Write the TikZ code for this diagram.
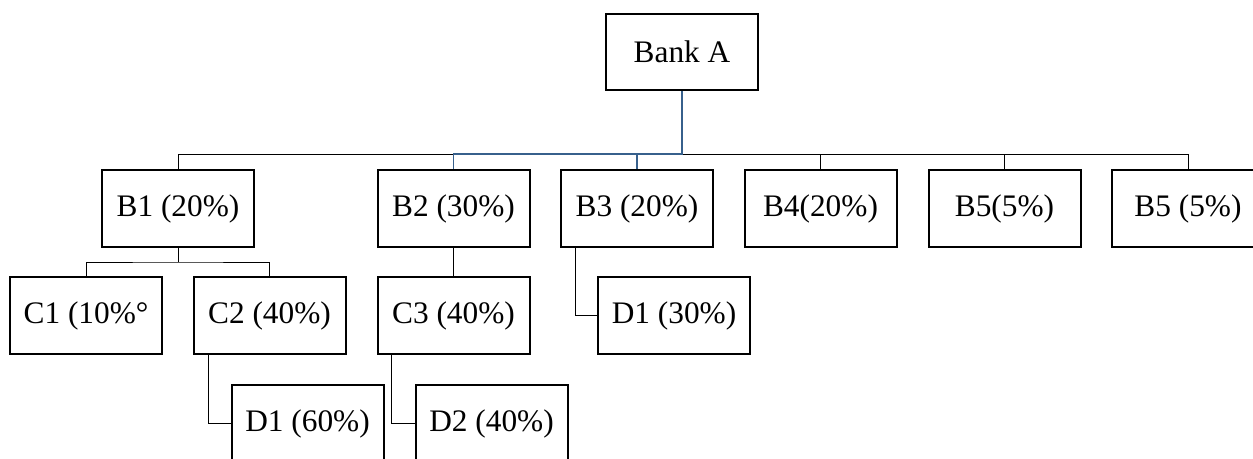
\documentclass[tikz,border=0pt]{standalone}
\usepackage{fontspec}
\setmainfont{Liberation Serif}
\usetikzlibrary{calc}
\definecolor{linkblue}{RGB}{55,96,140}
\begin{document}
\begin{tikzpicture}[x=0.75pt,y=-0.75pt,
    box/.style={draw,rectangle,line width=1.5pt,minimum width=114pt,minimum height=57.5pt,inner sep=0pt,font=\fontsize{23.5}{28}\selectfont},
    link/.style={line width=0.6pt}]
      \useasboundingbox(0,0)rectangle(1253,458);
      \foreach \n/\x/\y/\t in{bank/682/52/Bank A,b1/178/208.5/B1 (20\%),b2/453.5/208.5/B2 (30\%),b3/637/208.5/B3 (20\%),
        b4/820.5/208.5/B4(20\%),b5/1004.5/208.5/B5(5\%),b6/1188/208.5/B5 (5\%),
        c1/86/315.5/C1 (10\%°,c2/269.5/315.5/C2 (40\%),c3/453.5/315.5/C3 (40\%),d1a/674/315.5/D1 (30\%),
        d1b/307.5/423.5/D1 (60\%),d2/491.5/423.5/D2 (40\%)}{
        \node[box](\n)at(\x,\y){\t};
      }
      \coordinate(bus)at(682,154);\coordinate(cbus)at(178,262);
      \draw[link](b2.north|-bus)-|(b1.north);
      \draw[link](bus)-|(b6.north);
      \foreach \n in{b4,b5}{\draw[link](\n.north)--(\n.north|-bus);}
      \draw[link,linkblue,line width=1pt](bank.south)--(bus)-|(b2.north);
      \draw[link,linkblue,line width=1pt](b3.north)--(b3.north|-bus);
      \draw[link](b1.south)--(cbus);
      \draw[link](c1.north)|-(cbus)-|(c2.north);
      \draw[link](b2.south)--(c3.north);
      \draw[link]($(b3.south west)+(15,0)$)|-(d1a.west);
      \draw[link]($(c2.south west)+(16,0)$)|-(d1b.west);
      \draw[link]($(c3.south west)+(15,0)$)|-(d2.west);
\end{tikzpicture}
\end{document}
